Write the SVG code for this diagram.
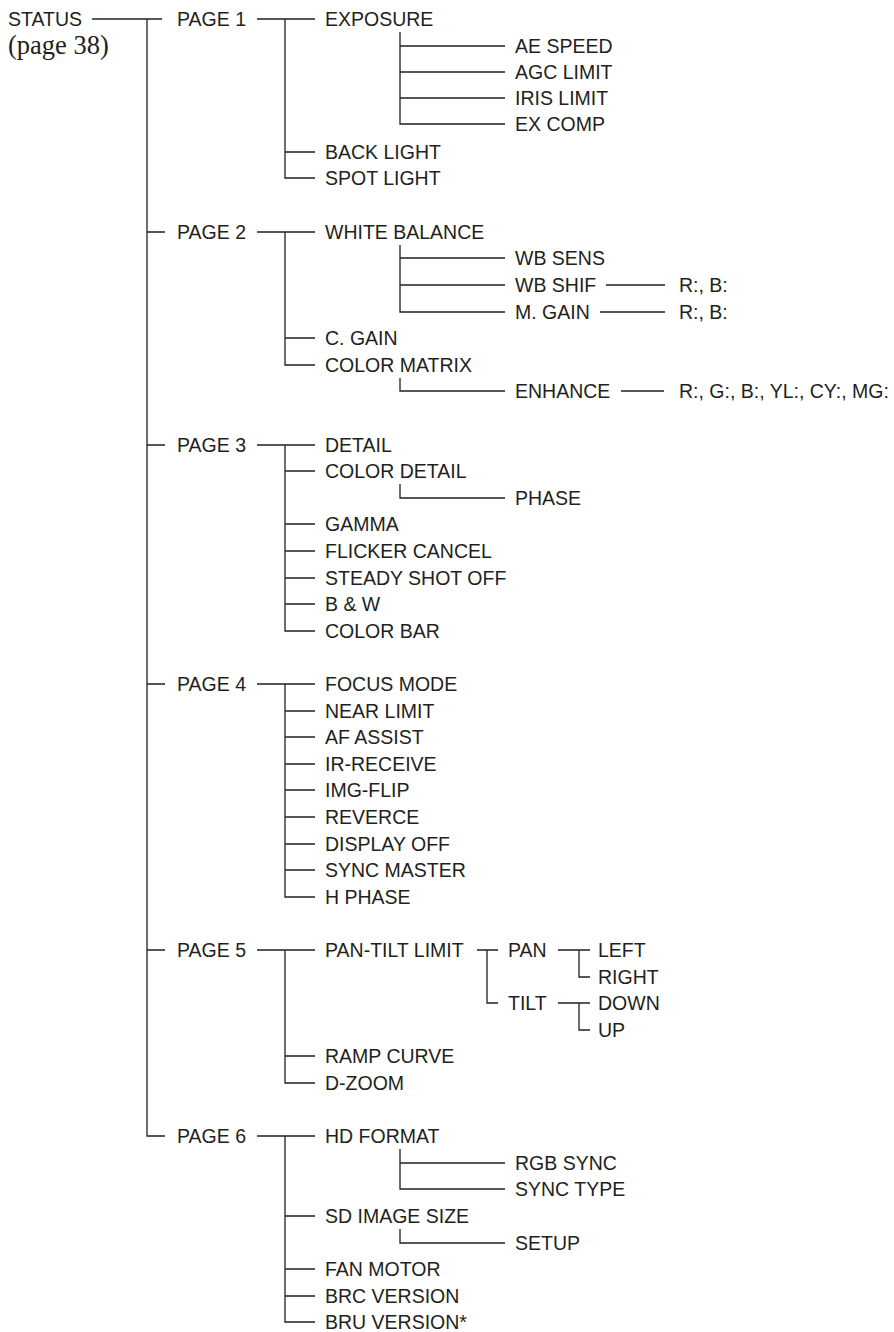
<svg xmlns="http://www.w3.org/2000/svg" width="894" height="1332" viewBox="0 0 894 1332">
<style>
text{font-family:"Liberation Sans",Arial,Helvetica,sans-serif;font-size:19.5px;fill:#231f20}
.serif{font-family:"Liberation Serif","Times New Roman",serif;font-size:26.5px}
.c path{fill:none;stroke:#231f20;stroke-width:1.3}
</style>
<rect width="894" height="1332" fill="#fff"/>
<g class="c" id="connectors">
<path d="M92,19H162"/>
<path d="M147,19V1136H165"/>
<path d="M147,232H165M147,445H165M147,684H165M147,950H165"/>
<path d="M257,19H315M285,19V178H315M285,152H315"/>
<path d="M400,32V124H505M400,46H505M400,72H505M400,98H505"/>
<path d="M257,232H315M285,232V365H315M285,338H315"/>
<path d="M400,245V312H505M400,258H505M400,285H505"/>
<path d="M606,285H665M600,312H665"/>
<path d="M400,378V391H505M621,391H664"/>
<path d="M257,445H315M285,445V631H315M285,471H315M285,524H315M285,551H315M285,578H315M285,604H315"/>
<path d="M400,484V498H505"/>
<path d="M257,684H315M285,684V897H315M285,711H315M285,737H315M285,764H315M285,790H315M285,817H315M285,844H315M285,870H315"/>
<path d="M257,950H315M285,950V1083H315M285,1056H315"/>
<path d="M477,950H498M487,950V1003H498"/>
<path d="M558,950H590M579,950V977H590"/>
<path d="M558,1003H590M579,1003V1030H590"/>
<path d="M257,1136H315M285,1136V1322H315M285,1216H315M285,1269H315M285,1296H315"/>
<path d="M400,1149V1189H505M400,1163H505"/>
<path d="M400,1229V1243H505"/>
</g>
<g id="status"><text x="8" y="26">STATUS</text><text class="serif" x="8" y="54">(page 38)</text></g>
<g id="page1"><text x="177" y="26">PAGE 1</text></g>
<g id="exposure"><text x="325" y="26">EXPOSURE</text></g>
<g id="ae-speed"><text x="515" y="53">AE SPEED</text></g>
<g id="agc-limit"><text x="515" y="79">AGC LIMIT</text></g>
<g id="iris-limit"><text x="515" y="105">IRIS LIMIT</text></g>
<g id="ex-comp"><text x="515" y="131">EX COMP</text></g>
<g id="back-light"><text x="325" y="159">BACK LIGHT</text></g>
<g id="spot-light"><text x="325" y="185">SPOT LIGHT</text></g>
<g id="page2"><text x="177" y="239">PAGE 2</text></g>
<g id="white-balance"><text x="325" y="239">WHITE BALANCE</text></g>
<g id="wb-sens"><text x="515" y="265">WB SENS</text></g>
<g id="wb-shif"><text x="515" y="292">WB SHIF</text></g>
<g id="wb-shif-rb"><text x="679" y="292">R:, B:</text></g>
<g id="m-gain"><text x="515" y="319">M. GAIN</text></g>
<g id="m-gain-rb"><text x="679" y="319">R:, B:</text></g>
<g id="c-gain"><text x="325" y="345">C. GAIN</text></g>
<g id="color-matrix"><text x="325" y="372">COLOR MATRIX</text></g>
<g id="enhance"><text x="515" y="398">ENHANCE</text></g>
<g id="enhance-values"><text x="679" y="398">R:, G:, B:, YL:, CY:, MG:</text></g>
<g id="page3"><text x="177" y="452">PAGE 3</text></g>
<g id="detail"><text x="325" y="452">DETAIL</text></g>
<g id="color-detail"><text x="325" y="478">COLOR DETAIL</text></g>
<g id="phase"><text x="515" y="505">PHASE</text></g>
<g id="gamma"><text x="325" y="531">GAMMA</text></g>
<g id="flicker-cancel"><text x="325" y="558">FLICKER CANCEL</text></g>
<g id="steady-shot-off"><text x="325" y="585">STEADY SHOT OFF</text></g>
<g id="b-w"><text x="325" y="611">B &amp; W</text></g>
<g id="color-bar"><text x="325" y="638">COLOR BAR</text></g>
<g id="page4"><text x="177" y="691">PAGE 4</text></g>
<g id="focus-mode"><text x="325" y="691">FOCUS MODE</text></g>
<g id="near-limit"><text x="325" y="718">NEAR LIMIT</text></g>
<g id="af-assist"><text x="325" y="744">AF ASSIST</text></g>
<g id="ir-receive"><text x="325" y="771">IR-RECEIVE</text></g>
<g id="img-flip"><text x="325" y="797">IMG-FLIP</text></g>
<g id="reverce"><text x="325" y="824">REVERCE</text></g>
<g id="display-off"><text x="325" y="851">DISPLAY OFF</text></g>
<g id="sync-master"><text x="325" y="877">SYNC MASTER</text></g>
<g id="h-phase"><text x="325" y="904">H PHASE</text></g>
<g id="page5"><text x="177" y="957">PAGE 5</text></g>
<g id="pan-tilt-limit"><text x="325" y="957">PAN-TILT LIMIT</text></g>
<g id="pan"><text x="508" y="957">PAN</text></g>
<g id="left"><text x="598" y="957">LEFT</text></g>
<g id="right"><text x="598" y="984">RIGHT</text></g>
<g id="tilt"><text x="508" y="1010">TILT</text></g>
<g id="down"><text x="598" y="1010">DOWN</text></g>
<g id="up"><text x="598" y="1037">UP</text></g>
<g id="ramp-curve"><text x="325" y="1063">RAMP CURVE</text></g>
<g id="d-zoom"><text x="325" y="1090">D-ZOOM</text></g>
<g id="page6"><text x="177" y="1143">PAGE 6</text></g>
<g id="hd-format"><text x="325" y="1143">HD FORMAT</text></g>
<g id="rgb-sync"><text x="515" y="1170">RGB SYNC</text></g>
<g id="sync-type"><text x="515" y="1196">SYNC TYPE</text></g>
<g id="sd-image-size"><text x="325" y="1223">SD IMAGE SIZE</text></g>
<g id="setup"><text x="515" y="1250">SETUP</text></g>
<g id="fan-motor"><text x="325" y="1276">FAN MOTOR</text></g>
<g id="brc-version"><text x="325" y="1303">BRC VERSION</text></g>
<g id="bru-version"><text x="325" y="1329">BRU VERSION*</text></g>
</svg>
